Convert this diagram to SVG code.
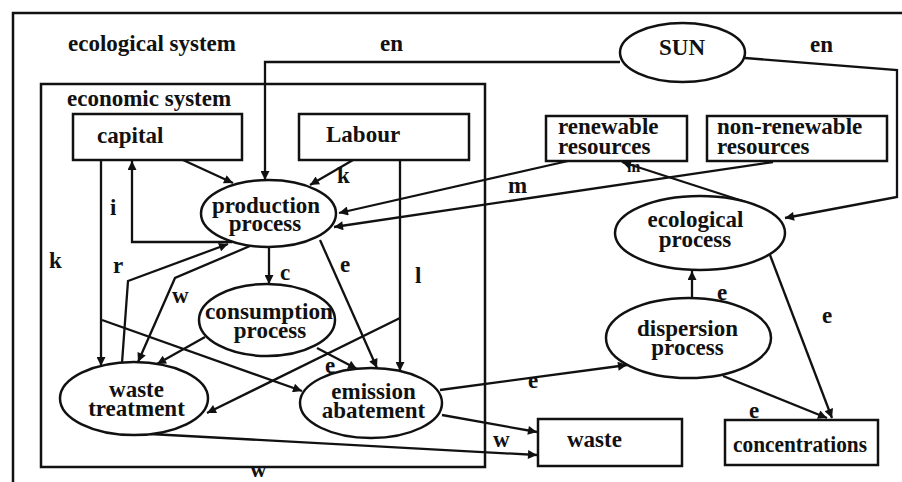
<svg xmlns="http://www.w3.org/2000/svg" width="902" height="482" viewBox="0 0 902 482">
<defs>
<style>
text{font-family:"Liberation Serif","Times New Roman",serif;font-weight:bold;font-size:23px;fill:#111}
.m{text-anchor:middle}
.box{fill:#fff;stroke:#111;stroke-width:2.5}
.frame{fill:none;stroke:#111;stroke-width:2.5}
.c{fill:none;stroke:#111;stroke-width:2.3;marker-end:url(#ah)}
</style>
<marker id="ah" viewBox="0 0 10 10" refX="10" refY="5" markerWidth="12" markerHeight="9" markerUnits="userSpaceOnUse" orient="auto">
<path d="M0,0 L10,5 L0,10 z" fill="#111"/>
</marker>
</defs>
<rect width="902" height="482" fill="#fff"/>
<g id="frames">
<path class="frame" d="M13,482 V13 H902"/>
<rect class="frame" x="41" y="84" width="444" height="383"/>
<text x="68" y="51">ecological system</text>
<text x="67" y="106">economic system</text>
</g>
<g id="connectors">
<path class="c" d="M183,160 L233,183"/>
<path class="c" d="M353,160 L310,185"/>
<path class="c" d="M620,62 H265 V180"/>
<path class="c" d="M232,242 H132 V161"/>
<path class="c" d="M101,160 V366"/>
<path class="c" d="M102,320 L302,391"/>
<path class="c" d="M122,363 L128,281 L228,244"/>
<path class="c" d="M250,246 L175,278 L138,362"/>
<path class="c" d="M269,247 V284"/>
<path class="c" d="M320,240 L377,368"/>
<path class="c" d="M400,160 V371"/>
<path class="c" d="M400,318 L207,413"/>
<path class="c" d="M205,337 L157,364"/>
<path class="c" d="M317,348 L357,369"/>
<path class="c" d="M773,162 L334,227"/>
<path class="c" d="M568,161 L339,213"/>
<path class="c" d="M745,58 L897,70 V197 L785,218"/>
<path class="c" d="M752,204 L622,162"/>
<path class="c" d="M770,255 L832,418"/>
<path class="c" d="M692,298 V271"/>
<path class="c" d="M723,376 L827,418"/>
<path class="c" d="M440,390 L627,365"/>
<path class="c" d="M442,415 L537,432"/>
<path class="c" d="M150,434 L537,455"/>
<text x="380" y="51">en</text>
<text x="810" y="52">en</text>
<text x="337" y="183">k</text>
<text x="110" y="215">i</text>
<text x="49" y="268">k</text>
<text x="113" y="273">r</text>
<text x="172" y="303">w</text>
<text x="280" y="280">c</text>
<text x="340" y="272">e</text>
<text x="415" y="283">l</text>
<text x="150" y="378">w</text>
<text x="325" y="373">e</text>
<text x="508" y="193">m</text>
<text x="627" y="172" style="font-size:16px">m</text>
<text x="717" y="300">e</text>
<text x="822" y="323">e</text>
<text x="749" y="418">e</text>
<text x="528" y="388">e</text>
<text x="493" y="447">w</text>
<text x="250" y="477">w</text>
</g>
<g id="sun">
<ellipse class="box" cx="682.5" cy="52.5" rx="62.5" ry="29.5"/>
<text class="m" x="682" y="55">SUN</text>
</g>
<g id="capital">
<rect class="box" x="73" y="114" width="169" height="46"/>
<text x="97" y="143">capital</text>
</g>
<g id="labour">
<rect class="box" x="299" y="114" width="170" height="46"/>
<text x="326" y="142">Labour</text>
</g>
<g id="production">
<ellipse class="box" cx="268.5" cy="213.5" rx="67.5" ry="33.5"/>
<text class="m" x="266" y="213">production</text>
<text class="m" x="265" y="231">process</text>
</g>
<g id="renewable">
<rect class="box" x="546" y="116" width="141" height="45"/>
<text x="558" y="134">renewable</text>
<text x="558" y="154">resources</text>
</g>
<g id="nonrenewable">
<rect class="box" x="707" y="116" width="180" height="45"/>
<text x="717" y="134">non-renewable</text>
<text x="717" y="154">resources</text>
</g>
<g id="ecological">
<ellipse class="box" cx="700" cy="233" rx="85" ry="37"/>
<text class="m" x="695.5" y="227">ecological</text>
<text class="m" x="695" y="247">process</text>
</g>
<g id="consumption">
<ellipse class="box" cx="267" cy="320" rx="68" ry="36"/>
<text class="m" x="269" y="319" textLength="128" lengthAdjust="spacingAndGlyphs">consumption</text>
<text class="m" x="270" y="338">process</text>
</g>
<g id="dispersion">
<ellipse class="box" cx="688.5" cy="338" rx="82.5" ry="40"/>
<text class="m" x="687.5" y="336">dispersion</text>
<text class="m" x="687.5" y="355">process</text>
</g>
<g id="wastetreatment">
<ellipse class="box" cx="134" cy="398.5" rx="74" ry="36.5"/>
<text class="m" x="136.5" y="397">waste</text>
<text class="m" x="136.5" y="416">treatment</text>
</g>
<g id="emission">
<ellipse class="box" cx="371" cy="403" rx="71" ry="35"/>
<text class="m" x="373.5" y="399">emission</text>
<text class="m" x="373.5" y="418">abatement</text>
</g>
<g id="waste">
<rect class="box" x="538" y="419" width="144" height="47"/>
<text x="567" y="447">waste</text>
</g>
<g id="concentrations">
<rect class="box" x="725" y="420" width="153" height="45"/>
<text class="m" x="800" y="452" textLength="134" lengthAdjust="spacingAndGlyphs">concentrations</text>
</g>
</svg>
